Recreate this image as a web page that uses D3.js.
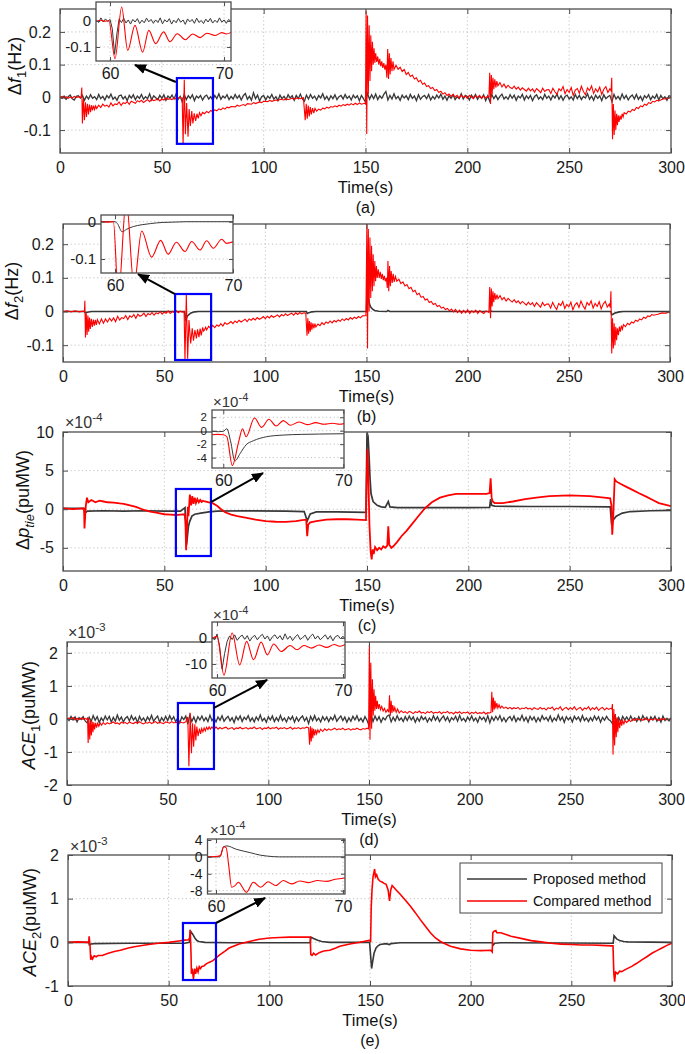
<!DOCTYPE html>
<html>
<head>
<meta charset="utf-8">
<script src="https://d3js.org/d3.v7.min.js"></script>
<style>
body { margin: 0; background: #fff; }
svg { display: block; }
</style>
</head>
<body>
<svg id="fig" width="685" height="1054"></svg>
<script>
// ---------- data ----------
const timeTicks = [0, 50, 100, 150, 200, 250, 300];
const insetTimeTicks = [60, 70];

const f1Ticks = [-0.1, 0, 0.1, 0.2];
const f2Ticks = [-0.1, 0, 0.1, 0.2];
const ptieTicks = [-5, 0, 5, 10];
const ace1Ticks = [-2, -1, 0, 1, 2];
const ace2Ticks = [-1, 0, 1, 2];
const f1InsetTicks = [-0.1, 0];
const f2InsetTicks = [-0.1, 0];
const ptieInsetTicks = [-4, -2, 0, 2];
const ace1InsetTicks = [-10, 0];
const ace2InsetTicks = [-8, -4, 0, 4];

const legendLabels = ["Proposed method", "Compared method"];

// proposed method, panel (a), one sample per second (Hz)
const f1Black = [
 .001,-.003,.004,-.006,.002,.007,-.004,-.008,.003,.005,
 -.002,.006,-.009,.004,-.005,.008,-.003,.002,-.007,.009,
 -.004,.003,-.008,.006,-.002,.01,-.006,.001,-.009,.005,
 .007,-.005,.003,-.01,.006,-.002,.008,-.007,.004,-.003,
 .009,-.006,.002,-.004,.011,-.008,.005,-.001,-.007,.006,
 -.003,.008,-.009,.004,-.002,.007,-.005,.01,-.006,.003,
 -.014,.009,-.007,.005,-.003,.008,-.01,.004,-.002,.006,
 -.008,.003,.007,-.005,.002,-.009,.006,-.004,.011,-.006,
 .004,-.002,.008,-.007,.003,-.005,.009,-.003,.006,-.008,
 .005,.012,-.006,.003,-.009,.014,-.004,.007,-.011,.002,
 .006,-.008,.004,-.003,.009,-.006,.002,-.01,.007,-.004,
 .003,-.007,.008,-.002,.005,-.009,.006,-.004,.01,-.005,
 -.012,.007,-.005,.009,-.003,.004,-.008,.006,-.002,.011,
 -.006,.003,-.009,.005,-.004,.008,-.007,.002,.006,-.005,
 .009,-.003,.004,-.008,.007,-.002,.005,-.01,.006,-.004,
 -.015,.012,-.006,.008,-.004,.01,-.007,.005,-.003,.009,
 .018,-.008,.006,-.005,.011,-.004,.003,-.009,.007,-.002,
 .005,-.007,.009,-.003,.004,-.01,.008,-.006,.002,.006,
 -.004,.009,-.008,.003,-.005,.007,-.002,.01,-.006,.004,
 -.009,.005,-.003,.008,-.007,.002,-.004,.011,-.005,.006,
 .003,-.008,.007,-.002,.009,-.006,.004,-.003,.008,-.01,
 .005,-.012,.009,-.004,.006,-.007,.003,.01,-.005,.002,
 -.006,.008,-.003,.007,-.009,.004,-.002,.009,-.008,.005,
 -.004,.006,-.01,.003,.008,-.005,.002,-.007,.009,-.003,
 .004,-.008,.006,-.002,.01,-.006,.005,-.009,.003,.007,
 -.005,.002,-.008,.009,-.004,.006,-.007,.003,-.002,.011,
 -.006,.004,-.009,.007,-.003,.005,-.01,.008,-.004,.002,
 .006,-.013,.009,-.005,.003,-.007,.01,-.004,.006,-.008,
 .002,.007,-.005,.009,-.006,.003,-.01,.005,-.002,.008,
 -.007,.004,-.003,.009,-.008,.006,-.004,.002,-.009,.005,
 .003
];

// compared method, panel (a): [time, Hz]
const f1Red = [
 [0,0],[1,.003],[2,-.002],[3,.002],[4,-.003],[5,.001],[6,-.002],[7,.003],[8,-.001],[9,.002],[10,-.001],
 [10.4,.001],[10.7,.03],[11,-.08],[11.5,-.005],[12,-.07],[12.5,-.015],[13,-.06],[13.5,-.02],[14,-.052],[14.5,-.022],[15,-.045],[15.5,-.024],[16,-.04],[16.5,-.025],[17,-.037],[17.5,-.026],[18,-.034],
 [19,-.024],[20,-.031],[21,-.021],[22,-.027],[23,-.024],[24,-.03],[25,-.017],[26,-.026],[27,-.02],[28,-.022],[29,-.014],[30,-.025],[31,-.016],[32,-.019],[33,-.013],[34,-.021],[35,-.012],[36,-.015],[37,-.018],[38,-.01],[39,-.014],[40,-.009],[41,-.016],[42,-.011],[43,-.007],[44,-.013],[45,-.006],[46,-.01],[47,-.008],[48,-.004],[49,-.011],[50,-.005],[51,-.008],[52,-.002],[53,-.006],[54,-.004],[55,-.007],[56,-.001],[57,-.005],[58,-.002],[59,0],[60,-.003],
 [60.44,-.145],[61.02,.054],[61.55,-.113],[62.19,-.017],[62.86,-.12],[63.4,-.036],[64,-.087],[64.7,-.042],[65.25,-.08],[65.9,-.049],[66.6,-.072],[67.25,-.05],[67.9,-.064],[68.5,-.047],[69.2,-.056],
 [70,-.046],[71,-.05],[72,-.043],[73,-.047],[74,-.04],[75,-.044],[76,-.038],[77,-.041],[78,-.035],[79,-.038],[80,-.032],[81,-.036],[82,-.03],[83,-.032],[84,-.028],[86,-.029],[87,-.024],[88,-.027],[90,-.022],[91,-.025],[92,-.019],[94,-.021],[95,-.016],[96,-.019],[98,-.014],[99,-.016],[100,-.012],[102,-.013],[103,-.009],[104,-.012],[106,-.008],[107,-.01],[108,-.006],[110,-.008],[111,-.004],[112,-.007],[114,-.003],[115,-.006],[116,-.002],[118,-.004],[119.5,-.001],
 [120.4,-.07],[120.9,-.02],[121.4,-.065],[121.9,-.025],[122.4,-.058],[122.9,-.03],[123.4,-.052],[124,-.033],[124.6,-.048],[125.2,-.034],
 [126,-.042],[127,-.036],[128,-.039],[129,-.033],[130,-.035],[131,-.03],[132,-.033],[133,-.028],[134,-.03],[135,-.026],[136,-.029],[137,-.024],[138,-.027],[139,-.022],[140,-.025],[141,-.021],[142,-.024],[143,-.019],[144,-.023],[145,-.018],[146,-.022],[147,-.017],[148,-.021],[149.5,-.018],
 [150,-.02],[150.3,.265],[150.6,-.112],[151,.25],[151.4,.01],[151.8,.22],[152.2,.05],[152.6,.19],[153,.08],[153.4,.17],[153.8,.1],[154.2,.15],[154.6,.105],[155,.135],[155.5,.108],[156,.125],[156.5,.1],[157,.118],[157.5,.095],[158,.11],[158.5,.09],[159,.105],[159.5,.085],[160,.1],[160.5,.06],[160.9,.148],[161.3,.056],[161.7,.135],[162.1,.07],[162.5,.12],[163,.08],[163.5,.11],[164,.085],
 [165,.098],[166,.086],[167,.092],[168,.079],[169,.085],[170,.07],[171,.076],[172,.064],[173,.068],[174,.056],[175,.06],[176,.048],[177,.052],[178,.04],[179,.044],[180,.033],[181,.036],[182,.027],[183,.03],[184,.021],[185,.024],[186,.015],[187,.019],[188,.01],[189,.014],[190,.006],[191,.01],[192,.003],[193,.009],[194,.001],[195,.006],[196,-.002],[197,.007],[198,0],[199,.004],[200,-.003],[201,.006],[202,.001],[203,-.004],[204,.005],[205,0],[206,.006],[207,-.003],[208,.004],[209,-.002],[210,.003],
 [210.6,.002],[211,.075],[211.4,-.02],[211.8,.068],[212.2,.01],[212.6,.06],[213,.025],[213.5,.055],[214,.03],[214.5,.05],[215,.035],[216,.045],[217,.032],[218,.041],[219,.029],[220,.037],[221,.03],[222,.027],[223,.034],[224,.025],[225,.031],[226,.022],[227,.029],[228,.024],[229,.019],[230,.028],[231,.02],[232,.026],[233,.016],[234,.027],[235,.021],[236,.014],[237,.028],[238,.018],[239,.023],
 [240,.024],[241,.012],[242,.028],[243,.017],[244,.009],[245,.026],[246,.02],[247,.033],[248,.011],[249,.024],[250,.015],[251,.03],[252,.006],[253,.022],[254,.027],[255,.013],[256,.034],[257,.018],[258,.008],[259,.029],[260,.021],[261,.035],[262,.012],[263,.026],[264,.017],[265,.031],[266,.009],[267,.025],[268,.033],[269,.015],[270,.026],
 [270.6,.02],[270.9,.06],[271.3,-.128],[271.7,-.02],[272.1,-.115],[272.5,-.04],[272.9,-.1],[273.3,-.05],[273.7,-.085],[274.1,-.055],[274.5,-.075],[275,-.056],[275.5,-.068],[276,-.05],[276.5,-.06],[277,-.047],[278,-.051],[279,-.042],[280,-.045],[281,-.037],[282,-.04],[283,-.031],[284,-.034],[285,-.026],[286,-.029],[287,-.021],[288,-.024],[289,-.016],[290,-.019],[291,-.012],[292,-.014],[293,-.009],[294,-.011],[296,-.005],[298,-.004],[300,0]
];

// inset (a): proposed sampled every 0.2 s from 58.8 s
const f1InsetBlack = [
 .004,-.006,.012,-.004,.008,-.002,.006,-.03,-.128,-.05,.008,-.006,.01,-.008,.004,-.012,.006,-.004,.009,-.01,
 .003,-.007,.011,-.003,.006,-.009,.004,-.006,.012,-.011,.005,-.004,.009,-.012,.003,-.007,.01,-.005,.004,-.013,
 .008,-.003,.006,-.009,.011,-.006,.002,-.01,.007,-.004,.01,-.008,.003,-.006,.012,-.005,.004,-.009,.006,-.002
];
const f1InsetRed = [
 [58.8,-.002],[59.2,.003],[59.5,-.001],[59.9,.001],[60.44,-.145],[61.02,.054],[61.55,-.113],[62.19,-.017],[62.86,-.12],[63.4,-.036],[64,-.087],[64.7,-.042],[65.25,-.08],[65.9,-.049],[66.6,-.072],[67.25,-.05],[67.9,-.064],[68.5,-.047],[69.2,-.056],[69.8,-.045],[70.2,-.05],[70.61,-.044]
];

// panel (b): [time, Hz]
const f2Black = [
 [0,0],[10.5,0],[11,-.004],[12,-.002],[14,0],[60,0],[60.3,-.01],[60.6,-.027],[61,-.02],[61.5,-.013],[62.5,-.008],[63,-.005],[65,-.001],[67,0],[120.3,0],[120.7,-.006],[121.5,-.004],[123,-.001],[125,0],
 [150,0],[150.2,.045],[150.6,.042],[151,.035],[151.5,.022],[152,.014],[153,.007],[154,.003],[156,.001],[160,0],[160.6,.003],[161.5,0],[211,0],[211.3,.002],[212,0],[270.8,0],[271.2,-.01],[271.8,-.008],[273,-.004],[275,-.001],[277,0],[300,0]
];
const f2Red = [
 [0,0],[2,.002],[4,-.001],[6,.002],[8,-.001],[10,.001],[10.6,0],
 [10.8,.032],[11.1,-.077],[11.5,-.005],[11.9,-.07],[12.3,-.012],[12.7,-.06],[13.1,-.018],[13.5,-.052],[14,-.022],[14.5,-.046],[15,-.024],[15.5,-.042],[16,-.025],[16.5,-.04],[17,-.024],[18,-.037],[19,-.022],[20,-.035],
 [21,-.022],[22,-.031],[23,-.02],[24,-.028],[25,-.019],[26,-.03],[27,-.014],[28,-.025],[29,-.018],[30,-.021],[31,-.012],[32,-.024],[33,-.013],[34,-.017],[35,-.009],[36,-.02],[37,-.008],[38,-.014],[39,-.011],[40,-.005],[41,-.015],[42,-.006],[43,-.01],[44,-.003],[45,-.011],[46,-.004],[47,-.007],[48,0],[49,-.008],[50,-.002],[51,-.005],[52,.002],[53,-.006],[54,0],[55,-.003],[56,.002],[57,-.004],[58,.001],[59,-.002],[59.86,0],
 [60.28,-.145],[60.95,.05],[61.6,-.14],[62.26,-.025],[63.1,-.095],[63.87,-.05],[64.5,-.087],[65.2,-.055],[65.93,-.08],[66.5,-.053],[67.2,-.076],[67.77,-.051],[68.33,-.071],[69.04,-.047],[69.46,-.058],[70,-.054],
 [70.5,-.047],[71,-.055],[72,-.044],[73,-.051],[74,-.041],[75,-.048],[76,-.04],[77,-.044],[78,-.036],[79,-.043],[80,-.033],[81,-.038],[82,-.035],[83,-.03],[84,-.036],[85,-.028],[86,-.033],[87,-.026],[88,-.031],[89,-.027],[90,-.023],[91,-.03],[92,-.022],[93,-.026],[94,-.02],[95,-.025],[96,-.018],[97,-.023],[98,-.02],[99,-.015],[100,-.021],[101,-.014],[102,-.019],[103,-.012],[104,-.017],[105,-.014],[106,-.01],[107,-.016],[108,-.009],[109,-.013],[110,-.007],[111,-.012],[112,-.008],[113,-.005],[114,-.011],[115,-.004],[116,-.009],[117,-.003],[118,-.007],[119,-.004],[120,-.005],
 [120.6,-.072],[121,-.02],[121.4,-.066],[121.8,-.028],[122.2,-.06],[122.6,-.032],[123,-.054],[123.5,-.035],[124,-.05],[124.5,-.036],[125,-.046],
 [126,-.037],[127,-.042],[128,-.033],[129,-.039],[130,-.031],[131,-.035],[132,-.028],[133,-.034],[134,-.027],[135,-.031],[136,-.025],[137,-.029],[138,-.022],[139,-.027],[140,-.021],[141,-.025],[142,-.018],[143,-.023],[144,-.017],[145,-.021],[146,-.015],[147,-.019],[148,-.013],[149.7,-.012],
 [150.2,.262],[150.5,-.11],[150.9,.245],[151.3,0],[151.7,.22],[152.1,.04],[152.5,.195],[152.9,.06],[153.3,.17],[153.7,.075],[154.1,.15],[154.5,.09],[154.9,.135],[155.3,.1],[155.8,.125],[156.3,.1],[156.8,.118],[157.3,.097],[157.8,.112],[158.3,.093],[158.8,.106],[159.3,.09],[159.8,.1],[160.3,.07],[160.6,.15],[161,.06],[161.4,.135],[161.8,.075],[162.2,.12],[162.7,.085],[163.2,.112],[163.7,.088],[164.3,.104],
 [165,.09],[166,.096],[167,.083],[168,.088],[169,.076],[170,.08],[171,.068],[172,.072],[173,.059],[174,.063],[175,.05],[176,.054],[177,.042],[178,.045],[179,.034],[180,.037],[181,.027],[182,.03],[183,.021],[184,.024],[185,.015],[186,.018],[187,.01],[188,.013],[189,.006],[190,.009],[191,.002],[192,.007],[193,-.001],[194,.006],[195,-.003],[196,.004],[197,-.005],[198,.003],[199,-.004],[200,.005],[201,-.006],[202,.002],[203,-.003],[204,.004],[205,-.006],[206,.003],[207,-.002],[208,-.006],[209,.002],[210,-.001],
 [210.5,-.003],[210.9,.073],[211.3,-.02],[211.7,.068],[212.1,.015],[212.5,.06],[212.9,.028],[213.4,.055],[213.9,.035],[214.5,.05],[215,.038],[216,.047],[217,.035],[218,.042],[219,.031],[220,.039],[221,.033],[222,.028],[223,.035],[224,.026],[225,.032],[226,.023],[227,.03],[228,.025],[229,.019],[230,.028],[231,.02],[232,.026],[233,.015],[234,.026],[235,.02],[236,.013],[237,.027],[238,.017],[239,.022],
 [240,.022],[241,.01],[242,.027],[243,.015],[244,.006],[245,.024],[246,.018],[247,.03],[248,.009],[249,.021],[250,.014],[251,.028],[252,.005],[253,.02],[254,.026],[255,.012],[256,.031],[257,.017],[258,.007],[259,.027],[260,.019],[261,.032],[262,.01],[263,.024],[264,.015],[265,.029],[266,.008],[267,.022],[268,.03],[269,.013],[270,.022],
 [270.5,.012],[270.8,.06],[271.2,-.125],[271.6,-.02],[272,-.11],[272.4,-.035],[272.8,-.1],[273.2,-.045],[273.6,-.085],[274,-.05],[274.5,-.07],[275,-.045],[275.5,-.06],[276,-.042],[276.5,-.052],[277,-.039],[278,-.045],[279,-.035],[280,-.039],[281,-.031],[282,-.034],[283,-.026],[284,-.029],[285,-.022],[286,-.025],[287,-.017],[288,-.02],[289,-.013],[290,-.015],[291,-.009],[292,-.011],[294,-.008],[296,-.004],[298,-.005],[300,-.001]
];
const f2InsetBlack = [
 [58.81,0],[60,0],[60.2,-.005],[60.6,-.027],[61,-.02],[61.55,-.013],[62.3,-.008],[63,-.005],[64,-.002],[65,-.001],[66,0],[70,0]
];
const f2InsetRed = [
 [58.81,.001],[59.3,-.001],[59.86,0],[60.28,-.2],[60.95,.06],[61.6,-.17],[62.26,-.025],[63.1,-.095],[63.87,-.05],[64.5,-.087],[65.2,-.055],[65.93,-.08],[66.5,-.053],[67.2,-.076],[67.77,-.051],[68.33,-.071],[69.04,-.047],[69.46,-.058],[70,-.054]
];

// panel (c): [time, x1e-4 puMW]
const ptieBlack = [
 [0,.1],[10.4,.1],[10.8,-.5],[12,-.25],[20,-.2],[30,-.25],[40,-.2],[50,-.25],[58,-.25],[60.2,.2],[60.97,-4.6],[61.4,-3.5],[61.9,-2.2],[62.5,-1.6],[63.6,-.9],[65,-.65],[68,-.5],[72,-.35],[76,-.25],[90,-.2],[110,-.25],[119,-.3],[120.5,-1.5],[122,-.6],[125,-.35],[135,-.35],[149.5,-.4],
 [150,9.9],[150.5,9.5],[151,7],[151.5,4],[152,2],[153,1],[155,.5],[157,.3],[159,.25],[160.5,1],[161.3,.3],[165,.2],[180,.2],[200,.2],[210.5,.25],[211,1.3],[211.5,.5],[213,.4],[230,.35],[250,.35],[270,.3],[270.7,-2],[271.5,-1.4],[273,-.9],[276,-.5],[280,-.3],[290,-.2],[300,-.15]
];
const ptieRed = [
 [0,.1],[5,0],[10,.1],[10.4,0],[10.6,-2.5],[11.2,.3],[11.8,1.5],[12.5,.9],[14,1.2],[16,.9],[18,1.1],[20,1],[22,.9],[25,.85],[28,.75],[30,.7],[33,.5],[36,.3],[40,-.1],[43,-.3],[46,-.45],[50,-.65],[53,-.7],[56,-.75],[58,-.7],[60,-.65],
 [60.4,-1.5],[60.75,-5.3],[61.3,-1.5],[61.6,.3],[61.9,-.9],[62.6,1.9],[63.2,.5],[63.8,1.7],[64.4,.7],[65,1.5],[65.6,.8],[66.3,1.3],[67,.9],[67.7,1.2],[68.4,.95],[69.1,1.1],[70,1],[72,.9],[74,.75],[76,.45],[78,0],[80,-.4],[83,-.7],[86,-.9],[90,-1.1],[95,-1.35],[100,-1.55],[105,-1.62],[110,-1.65],[115,-1.55],[118,-1.4],[120,-1.35],
 [120.5,-3.5],[121,-2],[122,-1.7],[125,-1.55],[130,-1.35],[135,-1.3],[140,-1.3],[145,-1.35],[149.5,-1.4],
 [150,6],[150.3,7.8],[150.7,4],[151.2,-2],[151.8,-5.5],[152.3,-6.5],[152.8,-5.2],[153.3,-5.8],[154,-4.9],[155,-5.3],[156,-5],[157,-5.2],[158,-4.8],[159,-5],[160,-4.7],[160.5,-2.2],[161,-4.6],[162,-5],[163,-4.8],[165,-4.2],[167,-3.5],[169.5,-2.8],[172,-2],[175,-1],[178.5,.1],[182,.9],[186,1.5],[190,1.8],[194,2],[200,2],[205,2],[209,2],
 [210.5,2.1],[211,4],[211.5,1.5],[212,1],[213,.8],[217,.8],[222,1],[228,1.3],[233.5,1.5],[240,1.7],[250,1.8],[260,1.7],[267,1.5],[270,1.4],
 [270.6,.5],[271,-3.3],[271.5,-1],[272.2,3.9],[273,3.6],[275,3.3],[278,2.9],[281,2.5],[284,2.1],[288,1.6],[291,1.2],[294,.8],[297,.6],[300,.4]
];
const ptieInsetBlack = [
 [59.06,-.1],[59.6,-.15],[60,-.1],[60.3,.3],[60.6,-1.5],[60.97,-4.5],[61.4,-3.4],[61.9,-2.1],[62.5,-1.5],[63.6,-.9],[65,-.65],[66.5,-.55],[68,-.5],[70.06,-.45]
];
const ptieInsetRed = [
 [59.06,-.6],[59.5,-.55],[60,-.6],[60.3,-.9],[60.75,-5.2],[61.3,-1.5],[61.6,.3],[61.9,-.9],[62.6,1.9],[63.2,.5],[63.8,1.7],[64.4,.7],[65,1.5],[65.6,.8],[66.3,1.3],[67,.9],[67.7,1.2],[68.4,.95],[69.1,1.1],[69.7,.95],[70.06,1.05]
];

// panel (d): proposed, one sample per second (x1e-3 puMW)
const ace1Black = [
 .02,-.05,.08,-.03,.06,-.09,.04,-.02,.07,-.06,
 -.12,.05,-.08,.1,-.04,.07,-.11,.03,-.06,.09,
 -.03,.08,-.1,.05,-.07,.12,-.04,.06,-.09,.02,
 .07,-.06,.1,-.03,.05,-.11,.08,-.05,.03,-.08,
 .06,-.04,.11,-.07,.02,.09,-.1,.04,-.06,.08,
 -.05,.1,-.03,.07,-.09,.04,-.12,.06,-.02,.09,
 -.16,.12,-.08,.06,-.1,.07,-.03,.09,-.06,.04,
 -.08,.11,-.05,.03,-.09,.06,-.04,.1,-.07,.02,
 .08,-.06,.04,-.11,.07,-.03,.09,-.08,.05,-.02,
 .1,-.07,.03,-.09,.06,-.04,.12,-.06,.02,-.1,
 .07,-.03,.09,-.08,.04,-.06,.11,-.05,.03,-.09,
 .06,-.02,.08,-.1,.05,-.07,.03,.09,-.06,.04,
 -.14,.08,-.05,.1,-.06,.03,-.09,.07,-.04,.06,
 -.08,.05,-.03,.11,-.07,.02,.09,-.05,.06,-.1,
 .04,-.07,.08,-.03,.1,-.06,.02,-.09,.07,-.04,
 -.2,.14,-.08,.09,-.05,.07,-.1,.04,-.03,.08,
 .12,-.09,.05,-.06,.1,-.04,.03,-.08,.07,-.05,
 .09,-.03,.06,-.1,.04,-.07,.08,-.02,.05,-.09,
 .03,-.06,.1,-.04,.07,-.08,.02,.09,-.05,.06,
 -.09,.04,-.03,.08,-.07,.11,-.05,.02,-.08,.06,
 -.04,.09,-.06,.03,-.1,.07,-.02,.05,-.08,.1,
 -.12,.06,-.05,.08,-.03,.1,-.07,.04,-.09,.02,
 .07,-.05,.09,-.08,.03,-.04,.11,-.06,.05,-.1,
 .08,-.03,.06,-.09,.04,-.07,.1,-.02,.05,-.06,
 .09,-.08,.03,-.05,.12,-.04,.06,-.1,.07,-.03,
 .05,-.09,.08,-.02,.06,-.07,.1,-.05,.03,-.08,
 .04,-.06,.09,-.03,.07,-.1,.05,-.04,.08,-.02,
 -.06,-.15,.1,-.07,.05,-.09,.08,-.03,.06,-.05,
 .09,-.04,.03,-.08,.07,-.06,.1,-.02,.05,-.09,
 .06,-.03,.08,-.07,.04,-.1,.09,-.05,.02,-.06,
 .04
];
const ace1Red = [
 [0,0],[1,.03],[2,-.02],[3,.04],[4,-.03],[5,.02],[6,-.02],[7,.03],[8,-.01],[9,.02],[10,-.02],
 [10.2,.05],[10.5,-.73],[10.9,.02],[11.3,-.62],[11.7,-.05],[12.1,-.5],[12.5,-.08],[12.9,-.4],[13.3,-.1],[13.7,-.32],[14.2,-.12],[14.7,-.26],[15.2,-.13],[15.8,-.22],[16.5,-.12],[17.2,-.19],[18,-.11],[19,-.17],
 [20,-.11],[21,-.15],[22,-.12],[23,-.09],[24,-.14],[25,-.12],[26,-.16],[27,-.1],[28,-.13],[29,-.11],[30,-.15],[31,-.09],[32,-.12],[33,-.14],[34,-.1],[35,-.13],[36,-.08],[37,-.12],[38,-.15],[39,-.11],[40,-.13],[41,-.09],[42,-.14],[43,-.11],[44,-.08],[45,-.13],[46,-.1],[47,-.12],[48,-.14],[49,-.09],[50,-.11],[51,-.13],[52,-.08],[53,-.12],[54,-.1],[55,-.13],[56,-.09],[57,-.11],[58,-.12],[59,-.08],[60,.06],
 [60.55,-1.43],[61.2,.19],[61.8,-1.04],[62.35,-.13],[62.9,-.84],[63.5,-.16],[64,-.65],[64.5,-.23],[65.1,-.52],[65.8,-.29],[66.35,-.45],[66.9,-.29],[67.5,-.39],[68.1,-.27],[68.7,-.36],[69.3,-.25],[70,-.32],[70.6,-.24],[71.2,-.31],[72,-.24],[73,-.32],[74,-.24],[75,-.31],
 [76,-.26],[77,-.3],[78,-.27],[79,-.25],[80,-.31],[81,-.28],[82,-.26],[83,-.32],[84,-.27],[85,-.29],[86,-.25],[87,-.3],[88,-.28],[89,-.26],[90,-.31],[91,-.27],[92,-.29],[93,-.24],[94,-.3],[95,-.28],[96,-.26],[97,-.32],[98,-.27],[99,-.29],[100,-.25],[101,-.3],[102,-.27],[103,-.28],[104,-.25],[105,-.31],[106,-.27],[107,-.29],[108,-.26],[109,-.3],[110,-.28],[111,-.25],[112,-.31],[113,-.27],[114,-.29],[115,-.26],[116,-.3],[117,-.27],[118,-.28],[119,-.25],[120,-.27],
 [120.5,-.78],[120.9,-.22],[121.3,-.68],[121.7,-.27],[122.1,-.58],[122.5,-.3],[123,-.5],[123.5,-.32],[124,-.45],[124.6,-.33],[125.2,-.41],[126,-.31],[127,-.38],[128,-.3],[129,-.35],
 [130,-.3],[131,-.34],[132,-.31],[133,-.28],[134,-.33],[135,-.3],[136,-.32],[137,-.28],[138,-.33],[139,-.31],[140,-.29],[141,-.34],[142,-.3],[143,-.32],[144,-.28],[145,-.31],[146,-.33],[147,-.29],[148,-.31],[149,-.28],[149.8,-.3],
 [150.2,2.27],[150.5,-.63],[150.9,1.7],[151.3,-.3],[151.7,1.2],[152.1,.1],[152.5,.9],[152.9,.25],[153.3,.7],[153.7,.3],[154.1,.55],[154.6,.3],[155.1,.45],[155.7,.28],[156.3,.38],[157,.24],[157.7,.32],[158.4,.2],[159.2,.28],[159.8,.2],[160.2,.72],[160.6,.1],[161,.55],[161.4,.18],[161.8,.42],[162.3,.22],[162.8,.35],[163.5,.2],[164.2,.3],[165,.18],
 [166,.25],[167,.19],[168,.22],[169,.17],[170,.23],[171,.2],[172,.16],[173,.22],[174,.19],[175,.24],[176,.18],[177,.2],[178,.16],[179,.22],[180,.19],[181,.23],[182,.17],[183,.2],[184,.18],[185,.22],[186,.16],[187,.21],[188,.19],[189,.23],[190,.17],[191,.2],[192,.15],[193,.21],[194,.18],[195,.22],[196,.16],[197,.2],[198,.18],[199,.21],[200,.15],[201,.2],[202,.17],[203,.21],[204,.16],[205,.19],[206,.17],[207,.21],[208,.15],[209,.19],[210,.18],
 [210.6,.2],[211,.82],[211.4,.2],[211.8,.65],[212.2,.28],[212.6,.55],[213,.32],[213.5,.48],[214,.33],[214.6,.43],[215.2,.33],
 [216,.39],[217,.32],[218,.36],[219,.31],[220,.35],[221,.3],[222,.34],[223,.31],[224,.35],[225,.29],[226,.33],[227,.31],[228,.35],[229,.3],[230,.33],[231,.28],[232,.34],[233,.31],[234,.29],[235,.35],[236,.3],[237,.33],[238,.27],[239,.34],[240,.31],[241,.36],[242,.27],[243,.33],[244,.3],[245,.37],[246,.26],[247,.32],[248,.35],[249,.28],[250,.34],[251,.29],[252,.37],[253,.27],[254,.32],[255,.35],[256,.26],[257,.33],[258,.3],[259,.37],[260,.27],[261,.34],[262,.29],[263,.36],[264,.26],[265,.32],[266,.35],[267,.27],[268,.33],[269,.29],[270,.32],
 [270.6,.3],[270.9,.45],[271.2,-1.08],[271.6,.3],[272,-.8],[272.4,.15],[272.8,-.55],[273.2,.05],[273.6,-.4],[274,0],[274.5,-.28],[275,-.03],[275.5,-.2],[276,-.05],[276.6,-.15],[277.2,-.05],[278,-.11],[279,-.03],[280,-.08],
 [281,-.01],[282,-.04],[283,.01],[284,-.03],[285,-.01],[286,-.04],[287,.02],[288,-.02],[289,-.04],[290,0],[291,-.03],[292,.01],[293,-.02],[294,-.04],[295,0],[296,-.02],[297,.01],[298,-.03],[299,0],[300,-.01]
];
// inset (d): proposed sampled every 0.2 s from 59.6 s (x1e-4)
const ace1InsetBlack = [
 .5,-.8,1.5,-3,-12,-6,-1.3,.8,-.6,1.2,-.9,.4,1.1,-.5,.9,-1.2,.3,1,-.7,.6,
 1.4,-.4,.8,-1.1,.5,1.2,-.3,.9,-.8,1.6,-.5,.7,-1,.4,1.3,-.6,.2,1.1,-.9,.6,
 1.5,-.4,.8,-.7,.3,1.2,-.5,.9,-1.1,.5,1,-.3,.7,-.6
];
const ace1InsetRed = [
 [59.6,-.3],[60,.6],[60.55,-14.3],[61.2,1.9],[61.8,-10.4],[62.35,-1.3],[62.9,-8.4],[63.5,-1.6],[64,-6.5],[64.5,-2.3],[65.1,-5.2],[65.8,-2.9],[66.35,-4.5],[66.9,-2.9],[67.5,-3.9],[68.1,-2.7],[68.7,-3.6],[69.3,-2.5],[69.8,-3.2],[70.16,-2.6]
];

// panel (e): [time, x1e-3 puMW]
const ace2Black = [
 [0,0],[10.3,0],[10.6,-.06],[11.5,-.04],[13,-.03],[30,-.02],[58,-.02],[60.3,0],[60.8,.26],[62,.18],[63,.1],[64,.04],[65,.02],[68,0],[80,-.01],[120.3,-.01],[120.7,.12],[122,.09],[124,.05],[126,.02],[130,0],
 [149.8,0],[150.3,-.3],[150.8,-.6],[151.3,-.45],[152,-.25],[153,-.13],[154,-.08],[155,-.05],[158,-.03],[159.7,-.05],[160.3,-.03],[165,-.01],[200,-.01],[210.8,-.01],[211.2,-.06],[212,-.02],[215,-.01],[270.8,-.02],[271.2,.15],[272.5,.08],[274,.04],[276,.02],[278,.01],[300,0]
];
const ace2Red = [
 [0,0],[5,.01],[10,0],[10.3,0],[10.5,.14],[10.9,-.05],[11.3,-.4],[11.7,-.33],[12.2,-.38],[13,-.31],[14,-.33],[15,-.3],[17,-.3],[20,-.25],[23,-.21],[26,-.18],[30,-.13],[33,-.1],[36,-.08],[40,-.05],[45,-.02],[50,0],[55,.03],[58,.05],[59.9,.06],
 [60.4,.1],[60.7,.28],[61.1,-.25],[61.3,-.72],[61.7,-.6],[62.3,-.84],[62.9,-.6],[63.4,-.72],[64,-.59],[64.6,-.68],[65.2,-.56],[65.8,-.6],[66.5,-.55],[67.5,-.54],[68.5,-.5],[70,-.46],[72,-.42],[75,-.3],[78,-.2],[80,-.13],[85,-.04],[90,.02],[95,.07],[100,.1],[105,.11],[110,.12],[115,.12],[119,.12],
 [120.3,.12],[120.6,-.28],[121.2,-.3],[122,-.25],[123,-.29],[125,-.23],[127,-.2],[130,-.18],[133,-.13],[135,-.09],[140,-.04],[145,0],[150,.05],
 [150.3,0],[150.6,.8],[151,1.2],[151.5,1.5],[152.3,1.68],[152.7,1.5],[153.3,1.55],[154,1.45],[155,1.4],[156,1.38],[157,1.35],[158,1.33],[159,1.2],[159.7,.95],[160.3,1.2],[161,1.3],[162,1.25],[163,1.2],[165,1.1],[167.5,.97],[170,.83],[172.5,.68],[175,.52],[177.5,.37],[180,.22],[182.5,.1],[185,.02],[187.5,-.04],[190,-.09],[195,-.15],[200,-.18],[205,-.19],[210,-.18],
 [210.7,-.22],[211,.22],[211.5,.25],[212.5,.27],[213,.22],[215,.22],[220,.14],[225,.09],[230,.04],[235,.01],[240,-.02],[245,-.04],[250,-.05],[255,-.06],[260,-.06],[265,-.07],[270,-.08],
 [270.7,-.08],[271.1,-.7],[271.5,-.9],[272,-.68],[273,-.72],[274,-.66],[275,-.67],[277,-.62],[280,-.55],[282.5,-.48],[285,-.4],[287.5,-.33],[290,-.25],[292.5,-.19],[295,-.13],[297.5,-.07],[300,-.02]
];
const ace2InsetBlack = [
 [59.33,0],[60.3,0],[60.6,2.4],[60.85,2.6],[61.6,1.8],[62.7,1],[63.5,.4],[64,.2],[65,0],[67,0],[70.16,0]
];
const ace2InsetRed = [
 [59.33,0],[60,.1],[60.35,.3],[60.6,2.4],[60.8,2.2],[61,-2],[61.23,-7.2],[61.5,-6.8],[61.76,-6],[62.4,-8.4],[62.94,-6],[63.5,-7.2],[64.1,-5.9],[64.7,-6.8],[65.3,-5.6],[65.96,-6.4],[66.6,-5.7],[67.3,-6.1],[68,-5.6],[68.7,-5.8],[69.4,-5.3],[70.16,-5]
];

// zoom windows [t0, t1, v0, v1] and arrows [[t, v] start, [t, v] tip] in main-axis units
const f1Box = [57.4, 75.1, -0.142, 0.059];
const f2Box = [55.4, 73.2, -0.144, 0.052];
const ptieBox = [55.7, 73.0, -6.06, 2.62];
const ace1Box = [55.1, 73.0, -1.515, 0.483];
const ace2Box = [57.1, 73.5, -0.863, 0.443];
const f1Arrow = [[56.9, 0.047], [36.8, 0.099]];
const f2Arrow = [[55.4, 0.052], [37.1, 0.111]];
const ptieArrow = [[73.0, 0.93], [98.7, 4.69]];
const ace1Arrow = [[73.0, 0.332], [99.4, 1.18]];
const ace2Arrow = [[73.5, 0.443], [97.9, 1.015]];

// ---------- drawing ----------
const FONT = '"Liberation Sans", Arial, Helvetica, sans-serif';
const AX = "#4d4d4d";
const BLK = "#383838";
const RED = "#ff0000";
const BLUE = "#0000ff";

const svg = d3.select("#fig").attr("font-family", FONT);
const defs = svg.append("defs");
defs.append("marker").attr("id", "ah")
    .attr("viewBox", "0 0 12 10").attr("refX", 11).attr("refY", 5)
    .attr("markerWidth", 6).attr("markerHeight", 5).attr("orient", "auto")
    .append("path").attr("d", "M0,0L12,5L0,10z").attr("fill", "#000");

const uniform = (vals, start, step) => vals.map((v, i) => [start + i * step, v]);

let clipId = 0;
function clip(x, y) {
    const id = "clip" + (clipId++);
    const [X0, X1] = x.range(), [YB, YT] = y.range();
    defs.append("clipPath").attr("id", id).append("rect")
        .attr("x", X0).attr("y", YT).attr("width", X1 - X0).attr("height", YB - YT);
    return `url(#${id})`;
}

function grid(g, x, y, xt, yt) {
    const [X0, X1] = x.range(), [YB, YT] = y.range();
    const gx = xt.filter(t => Math.abs(x(t) - X0) > 1.5 && Math.abs(x(t) - X1) > 1.5);
    const gy = yt.filter(t => Math.abs(y(t) - YT) > 1.5 && Math.abs(y(t) - YB) > 1.5);
    const gg = g.append("g").attr("stroke", "#b4b4b4").attr("stroke-width", 0.8).attr("stroke-dasharray", "1.2,2.6");
    gg.selectAll(null).data(gx).join("line")
        .attr("x1", d => x(d)).attr("x2", d => x(d)).attr("y1", YT).attr("y2", YB);
    gg.selectAll(null).data(gy).join("line")
        .attr("x1", X0).attr("x2", X1).attr("y1", d => y(d)).attr("y2", d => y(d));
}

function frame(g, x, y, xt, yt, o) {
    const [X0, X1] = x.range(), [YB, YT] = y.range();
    const style = s => {
        s.select(".domain").remove();
        s.attr("font-family", FONT).attr("font-size", null);
        s.selectAll("line").attr("stroke", AX).attr("stroke-width", 1);
        s.selectAll("text").attr("fill", "#1a1a1a");
    };
    g.append("g").attr("transform", `translate(0,${YB})`)
        .call(d3.axisBottom(x).tickValues(xt).tickSize(-o.tl).tickPadding(o.px).tickFormat(String))
        .call(style).selectAll("text").attr("font-size", o.fx);
    g.append("g").attr("transform", `translate(0,${YT})`)
        .call(d3.axisTop(x).tickValues(xt).tickSize(-o.tl).tickFormat(""))
        .call(style);
    g.append("g").attr("transform", `translate(${X0},0)`)
        .call(d3.axisLeft(y).tickValues(yt).tickSize(-o.tl).tickPadding(o.py).tickFormat(String))
        .call(style).selectAll("text").attr("font-size", o.fy);
    g.append("g").attr("transform", `translate(${X1},0)`)
        .call(d3.axisRight(y).tickValues(yt).tickSize(-o.tl).tickFormat(""))
        .call(style);
    g.append("rect").attr("x", X0).attr("y", YT).attr("width", X1 - X0).attr("height", YB - YT)
        .attr("fill", "none").attr("stroke", AX).attr("stroke-width", 1.3);
}

function exponent(g, px, py, p, size) {
    const t = g.append("text").attr("x", px).attr("y", py).attr("font-size", size).attr("fill", "#333");
    t.append("tspan").text("\u00d710");
    t.append("tspan").attr("dy", -size * 0.42).attr("font-size", size * 0.74).text(p);
}

function ylabel(g, cx, cy, parts) {
    const t = g.append("text").attr("transform", `translate(${cx},${cy}) rotate(-90)`)
        .attr("text-anchor", "middle").attr("font-size", 18).attr("fill", "#111");
    let shift = 0;
    parts.forEach(p => {
        const s = t.append("tspan").text(p.t);
        if (p.i) s.attr("font-style", "italic");
        const want = p.sub ? 5 : 0;
        if (want !== shift) { s.attr("dy", want - shift); shift = want; }
        if (p.sub) s.attr("font-size", 13);
    });
}

function drawInset(c) {
    const x = d3.scaleLinear().domain(c.xDom).range([c.x0, c.x1]);
    const y = d3.scaleLinear().domain(c.yDom).range([c.y1, c.y0]);
    const g = svg.append("g");
    g.append("rect").attr("x", c.x0).attr("y", c.y0).attr("width", c.x1 - c.x0).attr("height", c.y1 - c.y0).attr("fill", "#fff");
    grid(g, x, y, insetTimeTicks, c.yTicks);
    const cp = clip(x, y);
    const smooth = d3.line().x(d => x(d[0])).y(d => y(d[1])).curve(d3.curveMonotoneX);
    const straight = d3.line().x(d => x(d[0])).y(d => y(d[1]));
    g.append("path").datum(c.black).attr("d", c.noisy ? straight : smooth)
        .attr("fill", "none").attr("stroke", BLK).attr("stroke-width", 1).attr("clip-path", cp);
    g.append("path").datum(c.red).attr("d", smooth)
        .attr("fill", "none").attr("stroke", RED).attr("stroke-width", 1.1).attr("clip-path", cp);
    frame(g, x, y, insetTimeTicks, c.yTicks, {tl: 4, px: 7, py: 5, fx: 16, fy: c.fy || 15});
    if (c.exp) exponent(g, c.expX, c.expY, c.exp, 15);
}

function drawPanel(c) {
    const x = d3.scaleLinear().domain([0, 300]).range([c.x0, c.x1]);
    const y = d3.scaleLinear().domain(c.yDom).range([c.y1, c.y0]);
    const g = svg.append("g");
    grid(g, x, y, timeTicks, c.yTicks);
    const cp = clip(x, y);
    const line = d3.line().x(d => x(d[0])).y(d => y(d[1]));
    g.append("path").datum(c.black).attr("d", line)
        .attr("fill", "none").attr("stroke", BLK).attr("stroke-width", c.bw).attr("clip-path", cp);
    g.append("path").datum(c.red).attr("d", line)
        .attr("fill", "none").attr("stroke", RED).attr("stroke-width", c.rw).attr("clip-path", cp);
    frame(g, x, y, timeTicks, c.yTicks, {tl: 5, px: 9, py: 9, fx: 16, fy: 16});

    const b = c.box;
    g.append("rect").attr("x", x(b[0])).attr("y", y(b[3]))
        .attr("width", x(b[1]) - x(b[0])).attr("height", y(b[2]) - y(b[3]))
        .attr("fill", "none").attr("stroke", BLUE).attr("stroke-width", 2.2);

    const mid = (c.x0 + c.x1) / 2;
    g.append("text").attr("x", mid).attr("y", c.y1 + 40).attr("text-anchor", "middle")
        .attr("font-size", 16.5).attr("fill", "#111").text("Time(s)");
    g.append("text").attr("x", mid).attr("y", c.y1 + 60).attr("text-anchor", "middle")
        .attr("font-size", 16).attr("fill", "#111").text(c.caption);
    ylabel(g, c.labX, c.labY, c.label);
    if (c.exp) exponent(g, c.expX, c.expY, c.exp, 16);

    drawInset(c.inset);

    svg.append("line")
        .attr("x1", x(c.arrow[0][0])).attr("y1", y(c.arrow[0][1]))
        .attr("x2", x(c.arrow[1][0])).attr("y2", y(c.arrow[1][1]))
        .attr("stroke", "#000").attr("stroke-width", 2).attr("marker-end", "url(#ah)");
}

drawPanel({
    x0: 60, x1: 671, y0: 9, y1: 153, yDom: [-0.17, 0.27], yTicks: f1Ticks,
    black: uniform(f1Black, 0, 1), red: f1Red, bw: 1.3, rw: 1.1,
    box: f1Box, arrow: f1Arrow, caption: "(a)",
    labX: 21, labY: 66, label: [{t: "\u0394"}, {t: "f", i: true}, {t: "1", sub: true}, {t: "(Hz)"}],
    inset: {x0: 96, x1: 231, y0: 2, y1: 61, xDom: [58.77, 70.61], yDom: [-0.154, 0.073], yTicks: f1InsetTicks,
            black: uniform(f1InsetBlack, 58.8, 0.2), red: f1InsetRed, noisy: true}
});

drawPanel({
    x0: 63, x1: 670, y0: 224, y1: 362, yDom: [-0.15, 0.26], yTicks: f2Ticks,
    black: f2Black, red: f2Red, bw: 1.6, rw: 1.1,
    box: f2Box, arrow: f2Arrow, caption: "(b)",
    labX: 18, labY: 291, label: [{t: "\u0394"}, {t: "f", i: true}, {t: "2", sub: true}, {t: "(Hz)"}],
    inset: {x0: 101, x1: 233, y0: 215, y1: 273, xDom: [58.81, 70.0], yDom: [-0.1375, 0.018], yTicks: f2InsetTicks,
            black: f2InsetBlack, red: f2InsetRed}
});

drawPanel({
    x0: 63, x1: 671, y0: 432, y1: 571, yDom: [-8, 10], yTicks: ptieTicks,
    black: ptieBlack, red: ptieRed, bw: 1.7, rw: 1.8,
    box: ptieBox, arrow: ptieArrow, caption: "(c)",
    labX: 29, labY: 500, label: [{t: "\u0394"}, {t: "p", i: true}, {t: "tie", i: true, sub: true}, {t: "(puMW)"}],
    exp: "-4", expX: 65, expY: 428,
    inset: {x0: 212, x1: 344, y0: 410, y1: 468, xDom: [59.06, 70.06], yDom: [-5.55, 3.08], yTicks: ptieInsetTicks,
            black: ptieInsetBlack, red: ptieInsetRed, exp: "-4", expX: 213, expY: 407, fy: 11.5}
});

drawPanel({
    x0: 67, x1: 671, y0: 642, y1: 785, yDom: [-2, 2.33], yTicks: ace1Ticks,
    black: uniform(ace1Black, 0, 1), red: ace1Red, bw: 1.3, rw: 1.1,
    box: ace1Box, arrow: ace1Arrow, caption: "(d)",
    labX: 35, labY: 715, label: [{t: "ACE", i: true}, {t: "1", sub: true}, {t: "(puMW)"}],
    exp: "-3", expX: 68, expY: 638,
    inset: {x0: 212, x1: 345, y0: 622, y1: 678, xDom: [59.6, 70.16], yDom: [-15.4, 6.15], yTicks: ace1InsetTicks,
            black: uniform(ace1InsetBlack, 59.6, 0.2), red: ace1InsetRed, noisy: true, exp: "-4", expX: 213, expY: 620}
});

drawPanel({
    x0: 68, x1: 672, y0: 855, y1: 986, yDom: [-1, 2], yTicks: ace2Ticks,
    black: ace2Black, red: ace2Red, bw: 1.6, rw: 1.6,
    box: ace2Box, arrow: ace2Arrow, caption: "(e)",
    labX: 36, labY: 922, label: [{t: "ACE", i: true}, {t: "2", sub: true}, {t: "(puMW)"}],
    exp: "-3", expX: 70, expY: 852,
    inset: {x0: 207.5, x1: 345, y0: 839, y1: 894, xDom: [59.33, 70.16], yDom: [-8.8, 4.24], yTicks: ace2InsetTicks,
            black: ace2InsetBlack, red: ace2InsetRed, exp: "-4", expX: 210, expY: 835, fy: 14}
});

// legend in panel (e)
const lg = svg.append("g").attr("transform", "translate(460,863)");
lg.append("rect").attr("width", 202).attr("height", 50).attr("fill", "#fff").attr("stroke", "#444").attr("stroke-width", 1);
lg.selectAll("line.k").data(legendLabels).join("line")
    .attr("x1", 7).attr("x2", 67).attr("y1", (d, i) => 16 + i * 22).attr("y2", (d, i) => 16 + i * 22)
    .attr("stroke", (d, i) => i ? RED : BLK).attr("stroke-width", 1.6);
lg.selectAll("text").data(legendLabels).join("text")
    .attr("x", 73).attr("y", (d, i) => 21 + i * 22).attr("font-size", 14.3).attr("fill", "#111").text(d => d);
</script>
</body>
</html>
